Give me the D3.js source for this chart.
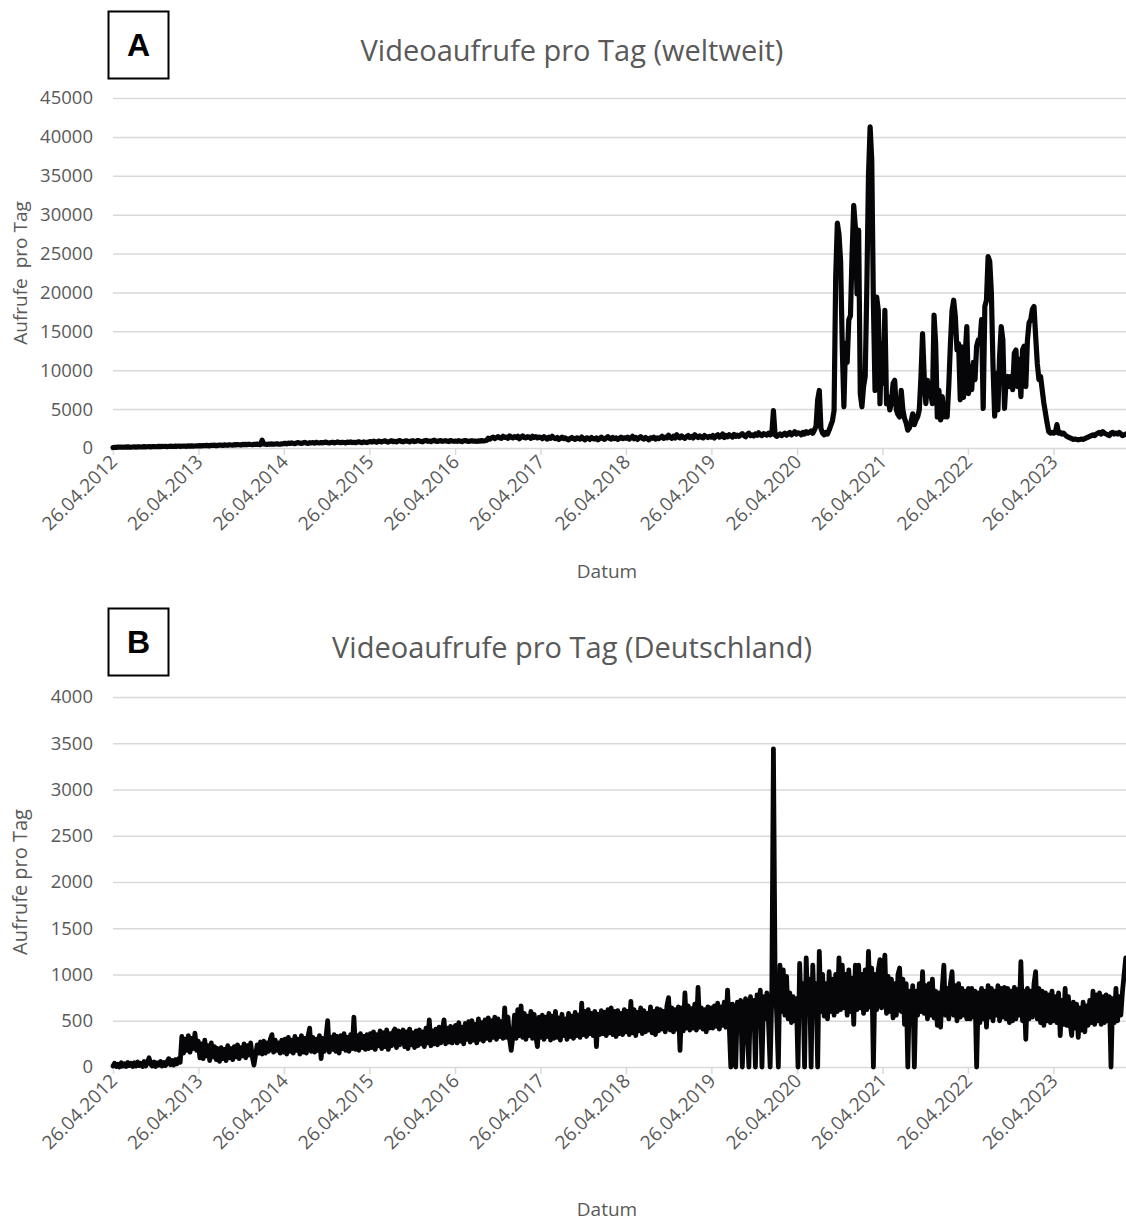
<!DOCTYPE html>
<html>
<head>
<meta charset="utf-8">
<script src="https://cdn.jsdelivr.net/npm/d3@7"></script>
<style>
  body { margin: 0; background: #ffffff; }
  svg { display: block; }
</style>
</head>
<body>
<svg id="chart" width="1126" height="1222"></svg>
<script>
// Weekly samples, starting 26.04.2012, one value every 7 days.
const firstDay = "26.04.2012";
const lastDay = "01.03.2024";
const stepDays = 7;

// Videoaufrufe pro Tag, weltweit
const worldViews = [
  // 2012/13
  60,90,80,110,100,120,90,130,110,140,120,100,130,150,120,140,160,130,150,170,
  140,160,180,150,170,190,160,180,200,170,210,190,220,180,200,230,210,190,240,220,
  250,210,230,260,240,220,270,250,280,240,260,290,
  // 2013/14
  280,300,260,320,290,340,310,280,350,330,370,300,340,380,360,320,400,370,350,420,
  390,360,430,400,450,420,380,460,430,470,440,490,450,420,480,460,500,470,440,1000,
  520,480,460,510,490,530,470,520,550,500,480,540,
  // 2014/15
  560,600,540,620,580,650,600,560,640,700,620,580,660,720,640,600,680,650,700,620,
  740,680,640,700,660,720,760,680,640,700,740,660,700,780,720,680,740,700,660,760,
  720,780,700,740,680,760,800,720,700,780,740,700,760,
  // 2015/16
  820,760,880,800,740,900,840,780,860,920,800,760,880,940,820,860,780,900,960,840,
  800,880,920,860,780,900,940,820,880,960,900,840,800,920,980,860,900,820,940,1000,
  880,840,920,960,860,900,940,880,820,960,900,860,
  // 2016/17
  900,860,940,880,820,920,960,880,840,900,940,870,900,850,920,880,960,900,940,1000,
  1250,1150,1300,1400,1200,1350,1450,1300,1250,1500,1350,1400,1250,1550,1400,1300,1450,1350,1500,1200,
  1400,1550,1350,1300,1450,1400,1250,1500,1350,1450,1300,1400,
  // 2017/18
  1350,1200,1450,1300,1150,1400,1250,1500,1300,1200,1350,1100,1250,1400,1200,1300,1150,1050,1250,1350,
  1200,1100,1300,1250,1150,1400,1200,1050,1300,1250,1100,1350,1200,1150,1300,1050,1250,1400,1200,1100,
  1300,1450,1250,1150,1350,1200,1300,1100,1250,1400,1200,1300,
  // 2018/19
  1250,1400,1150,1300,1500,1200,1350,1100,1300,1450,1250,1150,1350,1200,1050,1300,1250,1400,1150,1300,
  1200,1350,1500,1250,1400,1300,1650,1350,1250,1500,1300,1700,1400,1300,1550,1350,1250,1450,1600,1350,
  1500,1300,1700,1450,1350,1550,1400,1300,1600,1450,1350,1500,
  // 2019/20
  1400,1600,1300,1550,1700,1400,1500,1800,1350,1600,1450,1700,1550,1400,1750,1500,1650,
  1500,1700,1850,1600,1450,1750,1900,1600,1700,1550,1800,1650,1950,1700,1600,1850,1750,1650,1900,1700,1800,
  4800,
  1700,1500,1650,1800,1600,1750,1900,1650,1800,2000,1700,1850,2100,1800,1950,
  // 2020/21
  1900,1700,2000,1800,2100,1900,2000,2200,1900,2300,
  2800,6200,7400,2500,1900,1700,2000,1800,2300,2900,
  3500,4800,22000,28900,27500,24000,13000,5300,13500,11000,
  16500,17000,25000,31200,28400,19800,28000,7000,5300,7900,
  9200,20700,35000,41300,37000,18600,7400,19400,17700,5700,
  13400,8300,17700,5700,6600,4900,5800,8300,8700,4900,
  4300,4000,7400,4900,3800,3200,2300,2600,3400,4400,
  3000,3600,4000,4900,9000,14700,9200,5700,8700,7400,
  7000,5700,17100,13400,4000,7400,3600,6600,4000,5000,
  4000,8000,13400,17700,19000,16900,12600,13400,
  // 2021/22 onwards
  6200,13000,6500,12000,15600,7000,10500,7500,11000,8800,
  13100,13900,13500,16500,5100,18200,19000,24600,24000,19900,
  10500,4100,9600,4900,11800,15600,13900,5100,8800,9200,
  7900,9200,7500,12200,12600,7900,11400,6600,12600,13100,
  7900,13900,16100,16500,17800,18200,14400,10900,8800,9200,
  7500,5800,4500,3200,2100,1900,2000,1900,2000,3000,
  1900,2000,1800,1900,1700,1500,1400,1300,1200,1100,
  1150,1100,1050,1100,1150,1100,1200,1300,1400,1500,
  1600,1700,1600,1800,1900,2000,1800,2100,1900,1800,
  1700,1600,1900,2000,1800,1900,1800,2000,1800,1600,
  1700,1800
];

// Videoaufrufe pro Tag, Deutschland
const germanyViews = [
  // 2012/13
  10,40,5,30,0,45,10,35,5,50,15,40,5,45,10,55,15,40,5,60,
  10,50,100,30,10,55,5,45,20,60,10,50,15,60,90,25,70,20,80,35,
  90,50,330,150,300,180,340,160,310,200,365,180,
  // 2013/14
  280,100,250,90,290,120,230,70,260,110,220,80,200,60,210,90,190,70,230,100,
  200,80,220,110,240,90,210,120,250,100,230,130,260,110,20,130,240,150,270,140,
  280,150,260,170,300,350,160,290,180,260,150,290,
  // 2014/15
  160,300,140,320,170,290,150,330,180,300,140,340,160,310,150,330,420,170,320,160,
  300,180,340,90,310,170,330,500,160,320,190,350,170,330,150,340,200,360,180,320,
  170,350,200,540,190,340,180,360,210,330,190,350,200,
  // 2015/16
  360,210,380,190,350,230,390,200,370,220,400,190,360,230,380,410,210,390,240,370,
  400,220,380,200,410,240,370,210,390,230,400,250,380,220,420,260,510,230,390,250,
  410,240,430,260,400,510,250,420,270,440,260,410,
  // 2016/17
  450,260,480,280,430,250,470,300,490,270,500,290,460,260,520,300,480,280,510,310,
  530,290,500,320,540,300,520,330,490,310,640,320,540,300,180,330,560,310,620,340,
  660,320,580,300,550,340,600,310,570,330,220,540,
  // 2017/18
  320,560,300,540,330,580,290,550,310,600,320,530,290,570,340,520,300,580,330,550,
  310,590,340,560,320,690,350,600,330,620,360,580,340,600,220,570,350,610,360,590,
  340,620,370,640,350,600,330,610,360,580,350,620,
  // 2018/19
  380,600,350,710,370,620,340,590,390,640,360,610,380,580,400,650,370,600,350,630,
  390,620,410,600,380,660,750,400,640,380,620,410,650,180,640,390,800,420,660,400,
  630,420,680,400,860,430,640,410,620,380,650,420,
  // 2019/20
  640,420,660,440,690,410,650,450,700,430,830,460,0,680,430,0,700,450,720,0,
  470,740,480,0,760,460,720,0,780,500,830,0,760,520,800,480,0,780,3440,1000,
  560,0,1100,600,1050,560,980,520,800,480,760,500,740,0,
  // 2020/21
  1120,600,900,0,1180,620,950,0,1100,580,900,0,1250,600,1000,550,900,520,1030,600,
  950,560,1000,600,1180,620,1100,640,1000,560,1050,600,960,460,1100,620,1100,640,1000,580,
  1050,620,1250,650,1070,0,1000,620,1050,1160,640,1000,
  // 2021/22
  1210,580,980,600,950,530,900,560,1000,1070,600,950,460,900,0,820,560,880,0,820,
  560,900,600,1030,580,880,520,900,560,950,530,820,450,800,430,850,1100,560,850,520,
  900,1030,560,880,500,900,540,850,560,820,520,850,
  // 2022/23
  520,850,540,820,0,800,480,850,520,820,430,880,540,850,500,820,560,880,500,850,
  540,860,520,850,480,820,500,860,520,840,560,1140,500,820,300,850,520,820,540,900,
  1030,520,850,480,820,450,800,500,780,480,820,500,
  // 2023/24
  760,480,800,340,720,460,850,450,760,480,340,700,420,680,320,640,400,700,380,660,
  450,720,480,820,460,780,500,800,460,760,480,780,500,760,0,740,480,850,500,760,
  560,820,1000,1180
];

const dateLabels = [
  "26.04.2012","26.04.2013","26.04.2014","26.04.2015","26.04.2016","26.04.2017",
  "26.04.2018","26.04.2019","26.04.2020","26.04.2021","26.04.2022","26.04.2023"
];

const worldTicks = [0,5000,10000,15000,20000,25000,30000,35000,40000,45000];
const germanyTicks = [0,500,1000,1500,2000,2500,3000,3500,4000];

const parseDay = d3.utcParse("%d.%m.%Y");
const svg = d3.select("#chart");

const GRID = "#d9d9d9";
const TEXT = "#595959";
const FONT = "'Open Sans', 'DejaVu Sans', sans-serif";

const x = d3.scaleUtc()
  .domain([parseDay(firstDay), parseDay(lastDay)])
  .range([113, 1126]);

function toPoints(values) {
  const start = parseDay(firstDay);
  return values.map((v, i) => ({ date: d3.utcDay.offset(start, i * stepDays), value: v }));
}

function drawPanel(cfg) {
  const g = svg.append("g");
  const y = d3.scaleLinear().domain([0, cfg.max]).range([cfg.bottom, cfg.top]);

  // horizontal gridlines with value labels
  const yAxis = d3.axisLeft(y).tickValues(cfg.ticks).tickSize(-(1126 - 113)).tickPadding(20)
    .tickFormat(d3.format("d"));
  const ya = g.append("g").attr("transform", "translate(113,0)").call(yAxis);
  ya.select(".domain").remove();
  ya.selectAll(".tick line").attr("stroke", GRID).attr("stroke-width", 1.5)
    .filter(d => d === 0).remove();
  ya.selectAll(".tick text").attr("fill", TEXT).style("font-family", FONT).style("font-size", "18.5px");

  // date axis
  const xAxis = d3.axisBottom(x).tickValues(dateLabels.map(parseDay)).tickSize(7)
    .tickFormat(d3.utcFormat("%d.%m.%Y"));
  const xa = g.append("g").attr("transform", `translate(0,${cfg.bottom})`).call(xAxis);
  xa.select(".domain").attr("stroke", GRID).attr("stroke-width", 1.5)
    .attr("d", `M113,0.5H1126`);
  xa.selectAll(".tick line").attr("stroke", GRID).attr("stroke-width", 1.5);
  xa.selectAll(".tick text")
    .attr("fill", TEXT).style("font-family", FONT).style("font-size", "19px")
    .attr("text-anchor", "end").attr("dy", null).attr("y", 0)
    .attr("transform", "translate(5,15) rotate(-45)");

  // the series
  const line = d3.line().x(d => x(d.date)).y(d => y(d.value));
  g.append("path")
    .datum(toPoints(cfg.values))
    .attr("d", line)
    .attr("fill", "none")
    .attr("stroke", "#060608")
    .attr("stroke-width", cfg.strokeWidth)
    .attr("stroke-linejoin", "round")
    .attr("stroke-linecap", "round");

  // title
  g.append("text").attr("x", 572).attr("y", cfg.titleY).attr("text-anchor", "middle")
    .attr("fill", TEXT).style("font-family", FONT).style("font-size", "29px")
    .text(cfg.title);

  // panel letter box
  g.append("rect").attr("x", 108.5).attr("y", cfg.boxY + 0.5).attr("width", 60).attr("height", 67)
    .attr("fill", "#fff").attr("stroke", "#000").attr("stroke-width", 2);
  g.append("text").attr("x", 138.5).attr("y", cfg.boxY + 45).attr("text-anchor", "middle")
    .style("font-family", "'Liberation Sans', Arial, sans-serif").style("font-weight", "bold")
    .style("font-size", "32px").attr("fill", "#000").text(cfg.letter);

  // axis titles
  g.append("text").attr("transform", `translate(27,${(cfg.top + cfg.bottom) / 2}) rotate(-90)`)
    .attr("text-anchor", "middle").attr("fill", TEXT).style("font-family", FONT)
    .style("font-size", cfg.yTitleSize).style("white-space", "pre").text(cfg.yTitle);
  g.append("text").attr("x", 607).attr("y", cfg.datumY).attr("text-anchor", "middle")
    .attr("fill", TEXT).style("font-family", FONT).style("font-size", "19px").text("Datum");
}

drawPanel({
  values: worldViews, ticks: worldTicks, max: 45000, top: 98, bottom: 448,
  title: "Videoaufrufe pro Tag (weltweit)", titleY: 61, letter: "A", boxY: 11,
  yTitle: "Aufrufe  pro Tag", yTitleSize: "19px", datumY: 578, strokeWidth: 5.2
});
drawPanel({
  values: germanyViews, ticks: germanyTicks, max: 4000, top: 697, bottom: 1067,
  title: "Videoaufrufe pro Tag (Deutschland)", titleY: 658, letter: "B", boxY: 608,
  yTitle: "Aufrufe pro Tag", yTitleSize: "20px", datumY: 1216, strokeWidth: 4.8
});
</script>
</body>
</html>
